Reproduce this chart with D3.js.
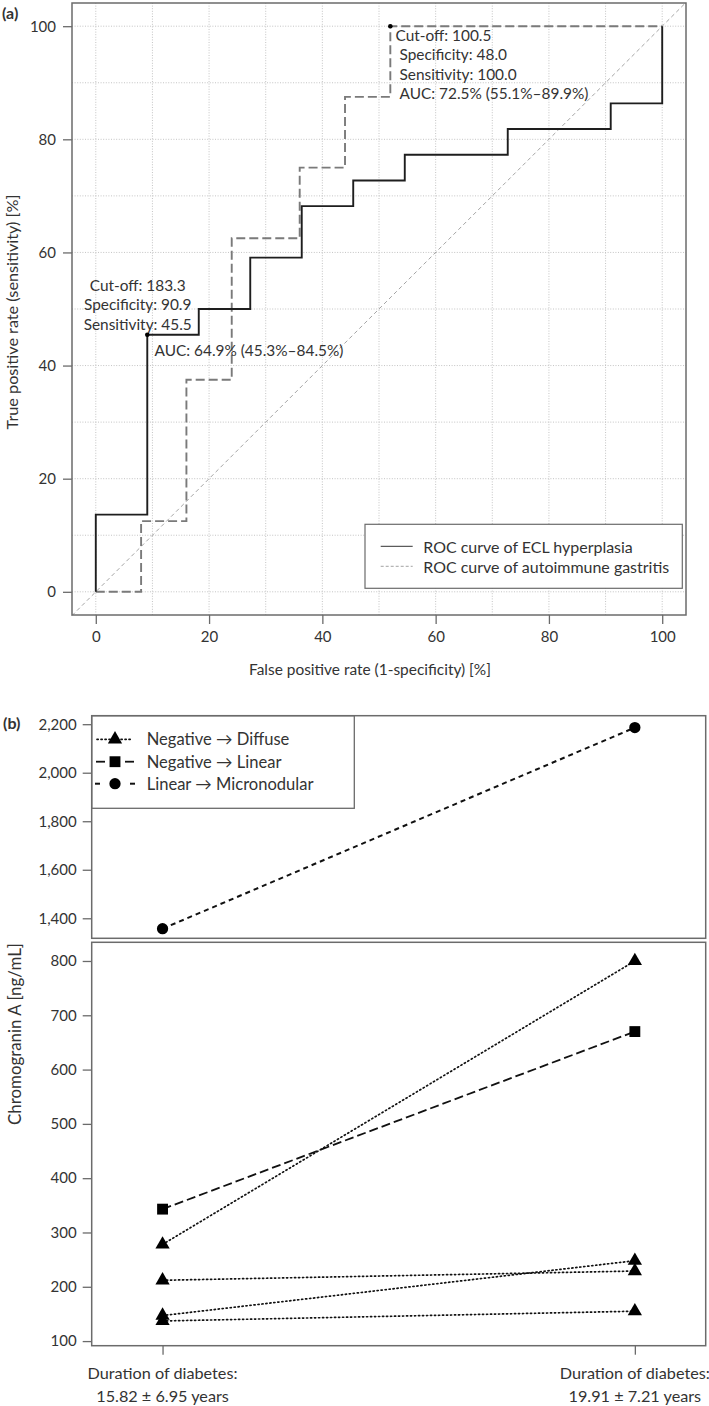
<!DOCTYPE html>
<html><head><meta charset="utf-8">
<script src="https://cdn.jsdelivr.net/npm/d3@7"></script>
<style>
body{margin:0;background:#fff}
svg{display:block}
text{font-family:Lato,"Open Sans",sans-serif;fill:#333;font-size:14.5px}
</style>
</head><body>
<svg id="c" width="709" height="1406"></svg>
<script>
// ---------- Panel (a) data: ROC curves ----------
const rocTicks = [0, 20, 40, 60, 80, 100];
const rocGrid = [0, 10, 20, 30, 40, 50, 60, 70, 80, 90, 100];
const eclFpr = [0, 9.09, 18.18, 27.27, 36.36, 45.45, 54.55, 72.73, 90.91, 100, 100];
const eclTpr = [0, 13.64, 45.45, 50.0, 59.09, 68.18, 72.73, 77.27, 81.82, 86.36, 100];
const agFpr = [0, 8, 16, 24, 36, 44, 52, 100];
const agTpr = [0, 12.5, 37.5, 62.5, 75, 87.5, 100, 100];
const eclCutoff = [9.09, 45.45];
const agCutoff = [52, 100];
const eclNote = ["Cut-off: 183.3", "Specificity: 90.9", "Sensitivity: 45.5"];
const eclAuc = "AUC: 64.9% (45.3%–84.5%)";
const agNote = ["Cut-off: 100.5", "Specificity: 48.0", "Sensitivity: 100.0", "AUC: 72.5% (55.1%–89.9%)"];
const rocLegend = ["ROC curve of ECL hyperplasia", "ROC curve of autoimmune gastritis"];

// ---------- Panel (b) data: chromogranin A ----------
const timepoints = [1, 2];
const timeLabels = [["Duration of diabetes:", "15.82 ± 6.95 years"], ["Duration of diabetes:", "19.91 ± 7.21 years"]];
const diffuseStart = [278, 212, 147, 137];
const diffuseEnd = [800, 229, 248, 155];
const linearStart = [343];
const linearEnd = [670];
const microStart = [1357];
const microEnd = [2186];
const topTicks = [1400, 1600, 1800, 2000, 2200];
const bottomTicks = [100, 200, 300, 400, 500, 600, 700, 800];
const groupNames = ["Negative → Diffuse", "Negative → Linear", "Linear → Micronodular"];

const svg = d3.select("#c");
const boxCol = "#6b6b6b";

function fitSize(sel, refNode, target) {
  const w = refNode.getComputedTextLength();
  const cur = parseFloat(getComputedStyle(refNode).fontSize);
  const fs = cur * target / w;
  sel.style("font-size", fs + "px");
}

// =============== Panel (a) ===============
const ax = d3.scaleLinear().domain([-4.2, 104.2]).range([72, 686]);
const ay = d3.scaleLinear().domain([-4.1, 104.1]).range([615, 3]);
const ga = svg.append("g");

ga.selectAll(".gx").data(rocGrid).enter().append("line")
  .attr("x1", d => ax(d)).attr("x2", d => ax(d)).attr("y1", 3).attr("y2", 615)
  .attr("stroke", "#bdbdbd").attr("stroke-width", 0.9).attr("stroke-dasharray", "1,1.6");
ga.selectAll(".gy").data(rocGrid).enter().append("line")
  .attr("y1", d => ay(d)).attr("y2", d => ay(d)).attr("x1", 72).attr("x2", 686)
  .attr("stroke", "#bdbdbd").attr("stroke-width", 0.9).attr("stroke-dasharray", "1,1.6");

ga.append("line").attr("x1", ax(-4.2)).attr("y1", ay(-4.2)).attr("x2", ax(104.2)).attr("y2", ay(104.2))
  .attr("stroke", "#9a9a9a").attr("stroke-width", 0.9).attr("stroke-dasharray", "4,3");

const agPts = agFpr.map((d, i) => [d, agTpr[i]]);
const eclPts = eclFpr.map((d, i) => [d, eclTpr[i]]);
ga.append("path").attr("d", d3.line().x(d => ax(d[0])).y(d => ay(d[1])).curve(d3.curveStepAfter)(agPts))
  .attr("fill", "none").attr("stroke", "#7a7a7a").attr("stroke-width", 1.9).attr("stroke-dasharray", "9,4");
ga.append("path").attr("d", d3.line().x(d => ax(d[0])).y(d => ay(d[1])).curve(d3.curveStepBefore)(eclPts))
  .attr("fill", "none").attr("stroke", "#1e1e1e").attr("stroke-width", 1.9);

[eclCutoff, agCutoff].forEach(p => {
  ga.append("circle").attr("cx", ax(p[0])).attr("cy", ay(p[1])).attr("r", 2.3).attr("fill", "#000");
});

const ann = ga.append("g").attr("class", "ann");
eclNote.forEach((t, i) => {
  ann.append("text").attr("x", 137.7).attr("y", 285 + i * 19.4).attr("text-anchor", "middle")
    .attr("dominant-baseline", "central").text(t);
});
const aucT = ann.append("text").attr("x", 154.5).attr("y", 350).attr("dominant-baseline", "central").text(eclAuc);
agNote.forEach((t, i) => {
  ann.append("text").attr("x", i === 0 ? 395.5 : 399.5).attr("y", 35 + i * 19.4)
    .attr("dominant-baseline", "central").text(t);
});
fitSize(ann.selectAll("text"), aucT.node(), 189);

// legend
const lg = ga.append("g");
lg.append("rect").attr("x", 365).attr("y", 524.3).attr("width", 317.3).attr("height", 64)
  .attr("fill", "#fff").attr("stroke", boxCol).attr("stroke-width", 1.2);
const lgRows = [546.3, 566.3];
lg.append("line").attr("x1", 380.7).attr("x2", 412.7).attr("y1", lgRows[0]).attr("y2", lgRows[0])
  .attr("stroke", "#333").attr("stroke-width", 1);
lg.append("line").attr("x1", 380.7).attr("x2", 412.7).attr("y1", lgRows[1]).attr("y2", lgRows[1])
  .attr("stroke", "#999").attr("stroke-width", 0.9).attr("stroke-dasharray", "3,2");
const lgT = [];
rocLegend.forEach((t, i) => {
  lgT.push(lg.append("text").attr("x", 423.3).attr("y", lgRows[i]).attr("dominant-baseline", "central").text(t));
});
fitSize(lg.selectAll("text"), lgT[1].node(), 246);

ga.append("rect").attr("x", 72).attr("y", 3).attr("width", 614).attr("height", 612)
  .attr("fill", "none").attr("stroke", boxCol).attr("stroke-width", 1.5);

const axX = ga.append("g").attr("transform", "translate(0,615)")
  .call(d3.axisBottom(ax).tickValues(rocTicks).tickSize(9).tickPadding(7).tickFormat(d3.format("d")));
const axY = ga.append("g").attr("transform", "translate(72,0)")
  .call(d3.axisLeft(ay).tickValues(rocTicks).tickSize(9).tickPadding(7).tickFormat(d3.format("d")));
[axX, axY].forEach(a => {
  a.select(".domain").remove();
  a.selectAll(".tick line").attr("stroke", boxCol).attr("stroke-width", 1.3);
  a.selectAll(".tick text").attr("fill", "#333").style("font-size", "15px").style("font-family", "Lato");
});
const xt = ga.append("text").attr("x", 370).attr("y", 669).attr("text-anchor", "middle").attr("dominant-baseline", "central")
  .text("False positive rate (1-specificity) [%]");
fitSize(xt, xt.node(), 242);
const yt = ga.append("text").attr("transform", "translate(18,312) rotate(-90)").attr("text-anchor", "middle")
  .text("True positive rate (sensitivity) [%]");
fitSize(yt, yt.node(), 235);
ga.append("text").attr("x", 2).attr("y", 19).style("font-weight", "bold").style("font-size", "16px").attr("fill", "#000").text("(a)");

// =============== Panel (b) ===============
const bx = d3.scaleLinear().domain([0.85, 2.15]).range([91.7, 705.7]);
const byTop = d3.scaleLinear().domain([1317.5, 2235]).range([938.3, 715.7]);
const byBot = d3.scaleLinear().domain([91.5, 834.4]).range([1345.7, 942.3]);
const gb = svg.append("g");

function axisStyle(a) {
  a.select(".domain").remove();
  a.selectAll(".tick line").attr("stroke", boxCol).attr("stroke-width", 1.3);
  a.selectAll(".tick text").attr("fill", "#333").style("font-size", "15px").style("font-family", "Lato");
}
const yT = gb.append("g").attr("transform", "translate(91.7,0)")
  .call(d3.axisLeft(byTop).tickValues(topTicks).tickSize(9).tickPadding(6).tickFormat(d3.format(",")));
axisStyle(yT);
const yB = gb.append("g").attr("transform", "translate(91.7,0)")
  .call(d3.axisLeft(byBot).tickValues(bottomTicks).tickSize(9).tickPadding(6).tickFormat(d3.format("d")));
axisStyle(yB);
const xB = gb.append("g").attr("transform", "translate(0,1345.7)")
  .call(d3.axisBottom(bx).tickValues(timepoints).tickSize(9).tickFormat(""));
axisStyle(xB);
const tl = gb.append("g");
timepoints.forEach((t, i) => {
  timeLabels[i].forEach((s, j) => {
    tl.append("text").attr("x", bx(t)).attr("y", 1372 + j * 23.5).attr("text-anchor", "middle")
      .attr("dominant-baseline", "central").text(s);
  });
});
fitSize(tl.selectAll("text"), tl.select("text").node(), 150);

const dotted = {stroke: "#111", w: 1.7, dash: "1.2,2.8", cap: "round"};
const longdash = {stroke: "#111", w: 1.8, dash: "9,4", cap: "butt"};
const shortdash = {stroke: "#111", w: 2, dash: "5,4", cap: "butt"};
function seg(parent, x1, y1, x2, y2, st) {
  parent.append("line").attr("x1", x1).attr("y1", y1).attr("x2", x2).attr("y2", y2)
    .attr("stroke", st.stroke).attr("stroke-width", st.w).attr("stroke-dasharray", st.dash)
    .attr("stroke-linecap", st.cap);
}
const triSym = d3.symbol().type(d3.symbolTriangle).size(88);
const sqSym = d3.symbol().type(d3.symbolSquare).size(118);
const circSym = d3.symbol().type(d3.symbolCircle).size(100);
function mark(parent, x, y, sym) {
  parent.append("path").attr("d", sym()).attr("transform", `translate(${x},${y})`).attr("fill", "#000");
}

microStart.forEach((v, i) => {
  seg(gb, bx(1), byTop(v), bx(2), byTop(microEnd[i]), shortdash);
  mark(gb, bx(1), byTop(v), circSym); mark(gb, bx(2), byTop(microEnd[i]), circSym);
});
diffuseStart.forEach((v, i) => seg(gb, bx(1), byBot(v), bx(2), byBot(diffuseEnd[i]), dotted));
linearStart.forEach((v, i) => seg(gb, bx(1), byBot(v), bx(2), byBot(linearEnd[i]), longdash));
diffuseStart.forEach((v, i) => { mark(gb, bx(1), byBot(v), triSym); mark(gb, bx(2), byBot(diffuseEnd[i]), triSym); });
linearStart.forEach((v, i) => { mark(gb, bx(1), byBot(v), sqSym); mark(gb, bx(2), byBot(linearEnd[i]), sqSym); });

const lb = gb.append("g");
lb.append("rect").attr("x", 91.7).attr("y", 715.7).attr("width", 262.6).attr("height", 92.6)
  .attr("fill", "#fff").attr("stroke", boxCol).attr("stroke-width", 1.3);
const legStyles = [dotted, longdash, shortdash];
const legSyms = [triSym, sqSym, circSym];
const lbT = [];
[739.3, 761.7, 783.7].forEach((y, i) => {
  const st = legStyles[i];
  if (i === 0) { seg(lb, 97, y, 133, y, st); }
  else if (i === 1) { seg(lb, 96, y, 105, y, st); seg(lb, 125, y, 134, y, st); }
  else { seg(lb, 95, y, 100, y, st); seg(lb, 130, y, 135, y, st); }
  mark(lb, 115, y, legSyms[i]);
  lbT.push(lb.append("text").attr("x", 146.7).attr("y", y).attr("dominant-baseline", "central").text(groupNames[i]));
});
fitSize(lb.selectAll("text"), lbT[2].node(), 167);

gb.append("rect").attr("x", 91.7).attr("y", 715.7).attr("width", 614).attr("height", 222.6)
  .attr("fill", "none").attr("stroke", boxCol).attr("stroke-width", 1.5);
gb.append("rect").attr("x", 91.7).attr("y", 942.3).attr("width", 614).attr("height", 403.4)
  .attr("fill", "none").attr("stroke", boxCol).attr("stroke-width", 1.5);

const byl = gb.append("text").attr("transform", "translate(21,1034) rotate(-90)").attr("text-anchor", "middle")
  .text("Chromogranin A [ng/mL]");
fitSize(byl, byl.node(), 182);
gb.append("text").attr("x", 3).attr("y", 729).style("font-weight", "bold").style("font-size", "16px").attr("fill", "#000").text("(b)");
</script>
</body></html>
